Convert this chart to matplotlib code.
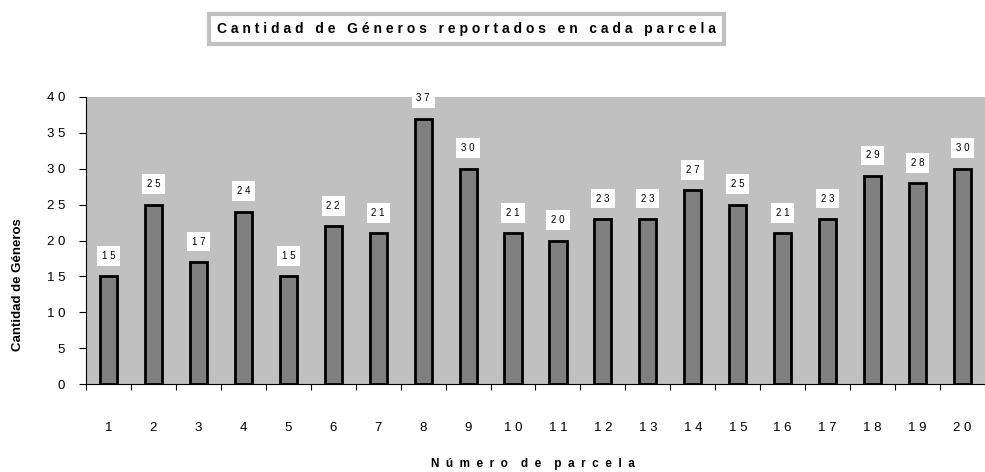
import matplotlib.pyplot as plt
import numpy as np

parcelas = list(range(1, 21))
generos = [15, 25, 17, 24, 15, 22, 21, 37, 30, 21, 20, 23, 23, 27, 25, 21, 23, 29, 28, 30]
y_ticks = [0, 5, 10, 15, 20, 25, 30, 35, 40]


def spaced(text, gap=" ", word_gap="   "):
    # letras separadas, palabras con hueco mayor
    return word_gap.join(gap.join(w) for w in text.split(" "))


plt.rcParams['font.family'] = ['Liberation Sans', 'DejaVu Sans']

fig = plt.figure(figsize=(9.85, 4.72), dpi=100)
ax = fig.add_axes([0.0873, 0.1864, 0.9127, 0.6081])
ax.set_facecolor('#c0c0c0')

x = np.arange(len(parcelas))
ax.bar(x, generos, width=0.38, color='#808080', edgecolor='black', linewidth=2, zorder=3)

for xi, v in zip(x, generos):
    ax.text(xi, v + 2.85, spaced(str(v)), ha='center', va='center', fontsize=7,
            bbox=dict(facecolor='white', edgecolor='none', pad=3.5), zorder=4)

ax.set_xlim(-0.5, len(parcelas) - 0.5)
ax.set_ylim(0, 40)
ax.set_yticks(y_ticks)
ax.set_yticklabels([spaced(str(t)) for t in y_ticks], fontsize=9.5)
ax.set_xticks(x)
ax.set_xticklabels([spaced(str(p)) for p in parcelas], fontsize=9.5)
ax.set_xticks(np.arange(len(parcelas) + 1) - 0.5, minor=True)
ax.tick_params(axis='x', which='major', length=0, pad=27)
ax.tick_params(axis='x', which='minor', length=4.5, width=0.8, direction='out')
ax.tick_params(axis='y', length=5, width=0.8, pad=10)

for s in ['top', 'right']:
    ax.spines[s].set_visible(False)
ax.spines['left'].set_linewidth(0.8)
ax.spines['bottom'].set_linewidth(0.8)

fig.text(0.018, 0.396, 'Cantidad de Géneros', rotation=90, ha='center', va='center',
         fontsize=9.5, fontweight='bold')
fig.text(0.541, 0.017, spaced('Número de parcela', gap="  ", word_gap="    "),
         ha='center', va='center', fontsize=8.5, fontweight='bold')
fig.text(0.4736, 0.9386, spaced('Cantidad de Géneros reportados en cada parcela'),
         ha='center', va='center', fontsize=10, fontweight='bold',
         bbox=dict(facecolor='white', edgecolor='#c0c0c0', linewidth=3, pad=6))

fig.savefig('out.png', dpi=100)
